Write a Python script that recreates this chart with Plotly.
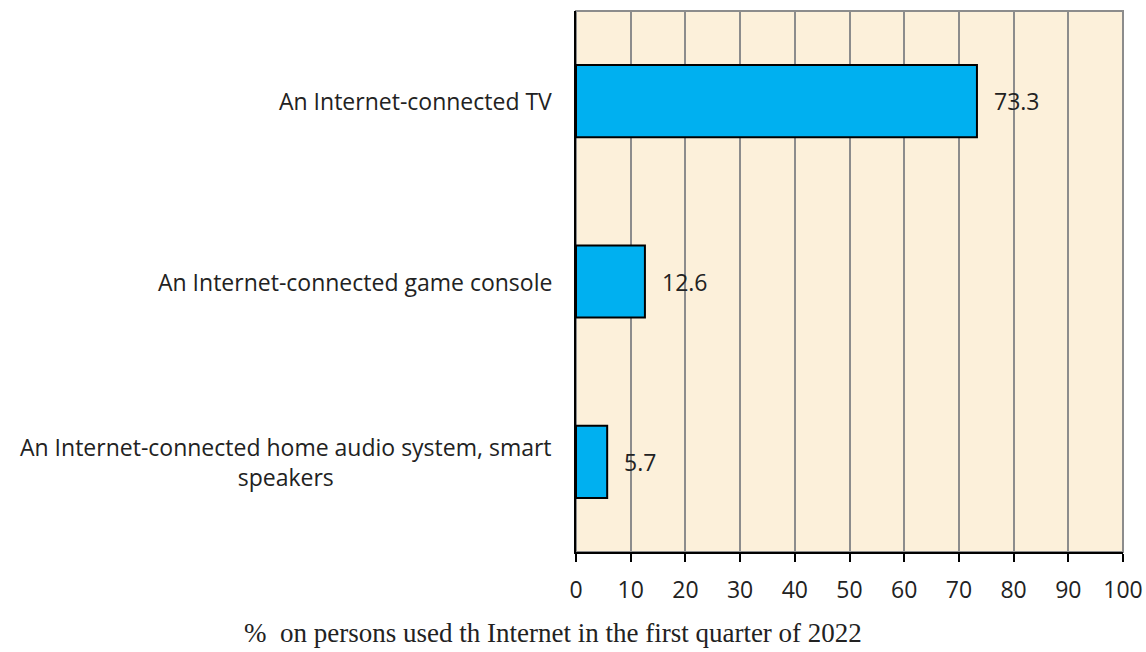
import plotly.graph_objects as go

# Devices used to access the Internet (% of persons who used the Internet, Q1 2022)
categories = [
    "An Internet-connected TV",
    "An Internet-connected game console",
    "An Internet-connected home audio system, smart<br>speakers",
]
values = [73.3, 12.6, 5.7]
value_labels = ["73.3", "12.6", "5.7"]
x_ticks = [0, 10, 20, 30, 40, 50, 60, 70, 80, 90, 100]
x_title = "%  on persons used th Internet in the first quarter of 2022"

label_font = dict(family="Open Sans, sans-serif", size=23, color="#222222")

fig = go.Figure()
fig.add_trace(go.Bar(
    y=categories,
    x=values,
    orientation="h",
    width=0.4,
    marker=dict(color="#00B0F0", line=dict(color="#000000", width=2)),
    hoverinfo="skip",
))

# value labels beside each bar
for cat, v, t in zip(categories, values, value_labels):
    fig.add_annotation(x=v, y=cat, xref="x", yref="y", text=t, showarrow=False,
                       xanchor="left", xshift=15, font=label_font)

# category labels, centred per line and right-aligned to the axis
for cat in categories:
    fig.add_annotation(x=0, y=cat, xref="paper", yref="y", text=cat, showarrow=False,
                       xanchor="right", align="center", xshift=-22, font=label_font)

fig.add_annotation(x=-0.042, y=0, xref="paper", yref="paper", yshift=-81,
                   text=x_title, showarrow=False, xanchor="center", yanchor="middle",
                   font=dict(family="Liberation Serif, Times New Roman, serif", size=27,
                             color="#222222"))

# gray frame for the plot area
fig.add_shape(type="rect", xref="paper", yref="paper", x0=0, y0=0, x1=1, y1=1,
              line=dict(color="#8C8C8C", width=2), layer="below")

fig.update_layout(
    width=1146, height=652,
    margin=dict(l=576, r=23, t=11, b=100),
    paper_bgcolor="#FFFFFF",
    plot_bgcolor="#FCF0DA",
    showlegend=False,
    xaxis=dict(
        range=[0, 100], tickvals=x_ticks, ticktext=[str(v) for v in x_ticks],
        showgrid=True, gridcolor="#8C8C8C", gridwidth=2,
        showline=True, linecolor="#000000", linewidth=2,
        ticks="outside", ticklen=8, tickwidth=2, tickcolor="#000000",
        ticklabelstandoff=8, automargin=False,
        tickfont=label_font, zeroline=False, fixedrange=True,
    ),
    yaxis=dict(
        categoryorder="array", categoryarray=categories[::-1],
        showticklabels=False, automargin=False,
        showline=True, linecolor="#000000", linewidth=2,
        showgrid=False, zeroline=False, fixedrange=True,
    ),
)

fig.write_html("out.html")
